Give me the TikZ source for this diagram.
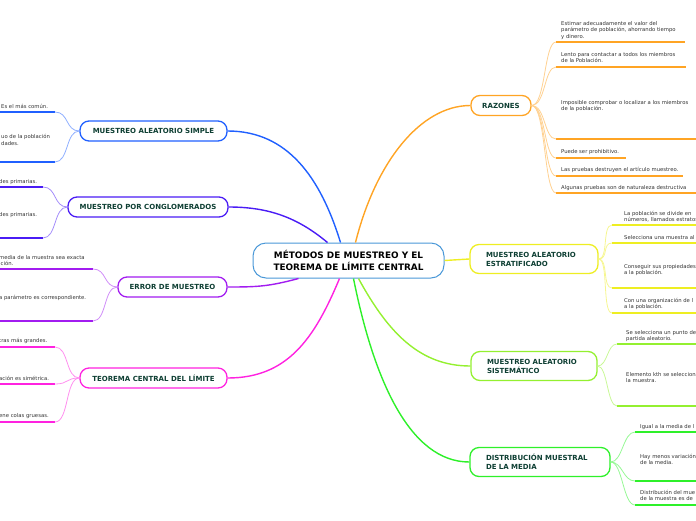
\documentclass[tikz,border=0pt]{standalone}
\usepackage{fontspec}
\setmainfont{DejaVu Sans}
\usepackage{xcolor}
\definecolor{CoreBlue}{HTML}{4A98D8}
\definecolor{SimpleBlue}{HTML}{2060FF}
\definecolor{ClusterBlue}{HTML}{4A1CF5}
\definecolor{ErrPurple}{HTML}{A21CF0}
\definecolor{TclPink}{HTML}{FF22E0}
\definecolor{RazOrange}{HTML}{FFA424}
\definecolor{EstYellow}{HTML}{EEEE22}
\definecolor{SisLime}{HTML}{94F030}
\definecolor{DistGreen}{HTML}{2EF02A}
\definecolor{TopicInk}{HTML}{0E3F33}
\definecolor{LeafInk}{HTML}{333333}
\usepackage{tikz}

\begin{document}
\begin{tikzpicture}[x=1pt,y=-1pt]
\tikzset{
  core/.style={rounded corners=13pt,draw=CoreBlue,fill=white,line width=1pt,minimum width=191pt,
    minimum height=35pt,align=center,font=\fontsize{8.9}{12}\selectfont\bfseries,text=black},
  topic/.style={rounded corners=9pt,draw=#1,fill=white,line width=1.3pt,minimum height=20pt,
    inner xsep=0pt,font=\fontsize{7}{9}\selectfont\bfseries,text=TopicInk},
  topictwo/.style={topic=#1,align=left,minimum height=29pt,inner xsep=16pt},
  leaf/.style={inner sep=0pt,anchor=north west,align=left,font=\fontsize{5.3}{6.5}\selectfont,text=LeafInk},
  uline/.style={line width=1.8pt,draw=#1},
  branch/.style={line width=1.4pt,draw=#1},
  twig/.style={line width=.8pt,draw=#1!50}
}
\useasboundingbox (0,0) rectangle (696,520);
\clip (0,0) rectangle (696,520);

% central topic and main branches
\node[core] (core) at (348.5,260.5) {MÉTODOS DE MUESTREO Y EL\\TEOREMA DE LÍMITE CENTRAL};

\node[topic=SimpleBlue,minimum width=147pt] (mas) at (153.5,131) {MUESTREO ALEATORIO SIMPLE};
\node[topic=ClusterBlue,minimum width=160pt] (cong) at (148,207) {MUESTREO POR CONGLOMERADOS};
\node[topic=ErrPurple,minimum width=109pt] (err) at (172.5,287) {ERROR DE MUESTREO};
\node[topic=TclPink,minimum width=147pt] (tcl) at (153.5,378) {TEOREMA CENTRAL DEL LÍMITE};
\node[topic=RazOrange,minimum width=60pt] (raz) at (501,105.5) {RAZONES};
\node[topictwo=EstYellow,text width=96pt] (est) at (534,259) {MUESTREO ALEATORIO\\ESTRATIFICADO};
\node[topictwo=SisLime,text width=94pt] (sis) at (534,366) {MUESTREO ALEATORIO\\SISTEMÁTICO};
\node[topictwo=DistGreen,text width=108pt] (dist) at (540,462) {DISTRIBUCIÓN MUESTRAL\\DE LA MEDIA};

\draw[branch=SimpleBlue] ([xshift=-8pt]core.north) .. controls +(-20,-65) and +(60,0) .. (mas.east);
\draw[branch=ClusterBlue] ([xshift=-21pt]core.north) .. controls +(-30,-25) and +(40,0) .. (cong.east);
\draw[branch=ErrPurple] ([xshift=-50pt]core.south) .. controls +(-30,8) and +(30,0) .. (err.east);
\draw[branch=TclPink] ([xshift=-9pt]core.south) .. controls +(-25,60) and +(60,0) .. (tcl.east);
\draw[branch=RazOrange] ([xshift=7pt]core.north) .. controls +(20,-80) and +(-50,0) .. (raz.west);
\draw[branch=EstYellow] (core.east) -- (est.west);
\draw[branch=SisLime] ([xshift=10pt]core.south) .. controls +(30,55) and +(-50,0) .. (sis.west);
\draw[branch=DistGreen] ([xshift=5pt]core.south) .. controls +(20,100) and +(-60,0) .. (dist.west);

% left leaves
\foreach \n/\ty/\uy/\txt in {1/104/112/{Es el más común.}, 2/134.5/162/{uo de la población\\dades.}} {
  \node[leaf] (mas\n t) at (1,\ty) {\txt};
  \coordinate (mas\n) at (55,\uy);
  \draw[uline=SimpleBlue] (-5,\uy) -- (mas\n);
  \draw[twig=SimpleBlue] (mas.west) .. controls +(-14,0) and +(14,0) .. (mas\n);
}
\foreach \n/\ty/\uy/\txt in {1/179/187/{des primarias.}, 2/212/238/{des primarias.}} {
  \node[leaf] (cong\n t) at (-1,\ty) {\txt};
  \coordinate (cong\n) at (43,\uy);
  \draw[uline=ClusterBlue] (-5,\uy) -- (cong\n);
  \draw[twig=ClusterBlue] (cong.west) .. controls +(-14,0) and +(14,0) .. (cong\n);
}
\foreach \n/\ty/\uy/\txt in {1/255/269/{media de la muestra sea exacta\\\hspace*{1.5pt}ción.}, 2/295/321/{a parámetro es correspondiente.}} {
  \node[leaf] (err\n t) at (-1,\ty) {\txt};
  \coordinate (err\n) at (93,\uy);
  \draw[uline=ErrPurple] (-5,\uy) -- (err\n);
  \draw[twig=ErrPurple] (err.west) .. controls +(-14,0) and +(14,0) .. (err\n);
}
\foreach \n/\ty/\uy/\txt in {1/338/347/{tras más grandes.}, 2/376/384/{ación es simétrica.}, 3/413/422/{ene colas gruesas.}} {
  \node[leaf] (tcl\n t) at (-1,\ty) {\txt};
  \coordinate (tcl\n) at (55,\uy);
  \draw[uline=TclPink] (-5,\uy) -- (tcl\n);
  \draw[twig=TclPink] (tcl.west) .. controls +(-14,0) and +(14,0) .. (tcl\n);
}

% right leaves
\foreach \n/\ty/\uy/\ue/\txt in {
  1/21/42/685/{Estimar adecuadamente el valor del\\parámetro de población, ahorrando tiempo\\y dinero.},
  2/52/67/686/{Lento para contactar a todos los miembros\\de la Población.},
  3/100/139/700/{Imposible comprobar o localizar a los miembros\\de la población.},
  4/149/158/626/{Puede ser prohibitivo.},
  5/167/176/683/{Las pruebas destruyen el artículo muestreo.},
  6/185/193/700/{Algunas pruebas son de naturaleza destructiva}} {
  \node[leaf] (raz\n t) at (561,\ty) {\txt};
  \coordinate (raz\n) at (556,\uy);
  \draw[uline=RazOrange] (raz\n) -- (\ue,\uy);
  \draw[twig=RazOrange] (raz.east) .. controls +(14,0) and +(-12,0) .. (raz\n);
}
\foreach \n/\ty/\uy/\txt in {
  1/211/225/{La población se divide en\\números, llamados estratos},
  2/235/243/{Selecciona una muestra al},
  3/264/288/{Conseguir sus propiedades\\a la población.},
  4/298/313/{Con una organización de l\\a la población.}} {
  \node[leaf] (est\n t) at (624,\ty) {\txt};
  \coordinate (est\n) at (612,\uy);
  \draw[uline=EstYellow] (est\n) -- (700,\uy);
  \draw[twig=EstYellow] (est.east) .. controls +(10,0) and +(-10,0) .. (est\n);
}
\foreach \n/\ty/\uy/\txt in {
  1/330/344/{Se selecciona un punto de\\partida aleatorio.},
  2/372/406/{Elemento kth se selecciona\\la muestra.}} {
  \node[leaf] (sis\n t) at (626,\ty) {\txt};
  \coordinate (sis\n) at (617,\uy);
  \draw[uline=SisLime] (sis\n) -- (700,\uy);
  \draw[twig=SisLime] (sis.east) .. controls +(10,0) and +(-10,0) .. (sis\n);
}
\foreach \n/\ty/\uy/\txt in {
  1/424/432/{Igual a la media de l},
  2/454/481/{Hay menos variación\\de la media.},
  3/490/505/{Distribución del mue\\de la muestra es de}} {
  \node[leaf] (dist\n t) at (640,\ty) {\txt};
  \coordinate (dist\n) at (635,\uy);
  \draw[uline=DistGreen] (dist\n) -- (700,\uy);
  \draw[twig=DistGreen] (dist.east) .. controls +(12,0) and +(-12,0) .. (dist\n);
}
\end{tikzpicture}
\end{document}
